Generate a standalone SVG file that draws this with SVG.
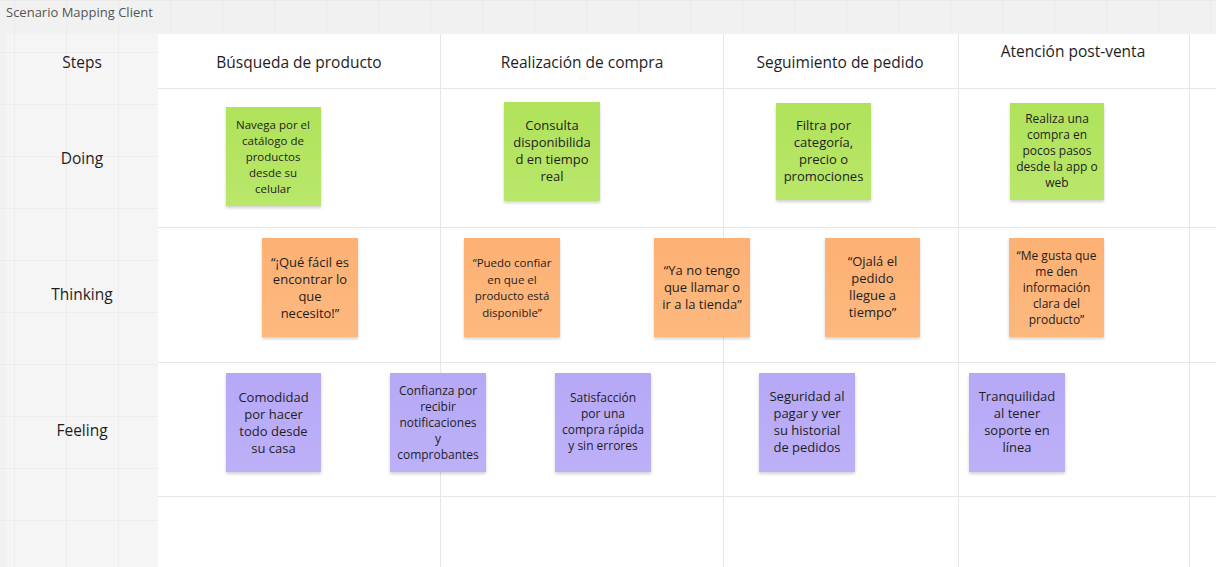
<svg xmlns="http://www.w3.org/2000/svg" width="1216" height="567" viewBox="0 0 1216 567">
<defs>
<pattern id="grid" x="14" y="0" width="52" height="52" patternUnits="userSpaceOnUse">
<path d="M0 0V52M0 0H52" fill="none" stroke="#e5e5e5" stroke-width="1"/>
</pattern>
<linearGradient id="gGreen" x1="0" y1="0" x2="0" y2="1"><stop offset="0" stop-color="#b0e25a"/><stop offset="1" stop-color="#b9e76a"/></linearGradient>
<linearGradient id="gOrange" x1="0" y1="0" x2="0" y2="1"><stop offset="0" stop-color="#fdb174"/><stop offset="1" stop-color="#fdb87e"/></linearGradient>
<linearGradient id="gPurple" x1="0" y1="0" x2="0" y2="1"><stop offset="0" stop-color="#b6a8f6"/><stop offset="1" stop-color="#bdb0f8"/></linearGradient>
<filter id="sh" x="-10%" y="-10%" width="120%" height="125%"><feDropShadow dx="0" dy="2" stdDeviation="1.5" flood-color="#000" flood-opacity="0.18"/></filter>
<style>
text{font-family:"Open Sans","Noto Sans","DejaVu Sans",sans-serif;fill:#1e1e1e;text-anchor:middle}
.title{font-size:13px;fill:#555;text-anchor:start}
.hdr{font-size:15.5px}
.lbl{font-size:15.5px}
.tl{stroke:#e6e6e6;stroke-width:1;fill:none}
.green{fill:url(#gGreen);filter:url(#sh)}
.orange{fill:url(#gOrange);filter:url(#sh)}
.purple{fill:url(#gPurple);filter:url(#sh)}
.n13{font-size:13px}
.n12{font-size:12px}
.n115{font-size:11.5px}
</style>
</defs>
<rect width="1216" height="567" fill="#f1f1f1"/>
<rect x="6" y="34" width="152" height="533" fill="#f5f5f5"/>
<rect width="1216" height="567" fill="url(#grid)"/>
<text class="title" x="6" y="17">Scenario Mapping Client</text>
<g id="table">
<rect x="158" y="34" width="1058" height="533" fill="#ffffff"/>
<path class="tl" d="M158 88.5H1216M158 227.5H1216M158 362.5H1216M158 496.5H1216M440.5 34V567M723.5 34V567M958.5 34V567M1189.5 34V567"/>
</g>
<g id="labels">
<text class="lbl" x="82" y="68">Steps</text>
<text class="lbl" x="82" y="164">Doing</text>
<text class="lbl" x="82" y="300">Thinking</text>
<text class="lbl" x="82" y="436">Feeling</text>
<text class="hdr" x="299" y="68">Búsqueda de producto</text>
<text class="hdr" x="582" y="68">Realización de compra</text>
<text class="hdr" x="840" y="68">Seguimiento de pedido</text>
<text class="hdr" x="1073" y="57">Atención post-venta</text>
</g>
<g id="doing1"><rect class="green" x="226" y="107" width="95" height="99"/>
<text class="n115"><tspan x="273" y="128.5">Navega por el</tspan><tspan x="273" y="144.5">catálogo de</tspan><tspan x="273" y="160.5">productos</tspan><tspan x="273" y="176.5">desde su</tspan><tspan x="273" y="192.5">celular</tspan></text></g>
<g id="doing2"><rect class="green" x="504" y="102" width="96" height="99"/>
<text class="n13"><tspan x="552" y="130">Consulta</tspan><tspan x="552" y="147">disponibilida</tspan><tspan x="552" y="164">d en tiempo</tspan><tspan x="552" y="181">real</tspan></text></g>
<g id="doing3"><rect class="green" x="776" y="103" width="95" height="97"/>
<text class="n13"><tspan x="823.5" y="130">Filtra por</tspan><tspan x="823.5" y="147">categoría,</tspan><tspan x="823.5" y="164">precio o</tspan><tspan x="823.5" y="181">promociones</tspan></text></g>
<g id="doing4"><rect class="green" x="1010" y="103" width="94" height="97"/>
<text class="n12"><tspan x="1057" y="123">Realiza una</tspan><tspan x="1057" y="139">compra en</tspan><tspan x="1057" y="155">pocos pasos</tspan><tspan x="1057" y="171">desde la app o</tspan><tspan x="1057" y="187">web</tspan></text></g>
<g id="think1"><rect class="orange" x="262" y="238" width="96" height="99"/>
<text class="n13"><tspan x="310" y="266.5">“¡Qué fácil es</tspan><tspan x="310" y="283.5">encontrar lo</tspan><tspan x="310" y="300.5">que</tspan><tspan x="310" y="317.5">necesito!”</tspan></text></g>
<g id="think2"><rect class="orange" x="464" y="238" width="96" height="99"/>
<text class="n115"><tspan x="512" y="267">“Puedo confiar</tspan><tspan x="512" y="283.5">en que el</tspan><tspan x="512" y="300">producto está</tspan><tspan x="512" y="316.5">disponible”</tspan></text></g>
<g id="think3"><rect class="orange" x="654" y="238" width="96" height="99"/>
<text class="n13"><tspan x="702" y="274.5">“Ya no tengo</tspan><tspan x="702" y="291.5">que llamar o</tspan><tspan x="702" y="308.5">ir a la tienda”</tspan></text></g>
<g id="think4"><rect class="orange" x="825" y="238" width="95" height="99"/>
<text class="n13"><tspan x="872.5" y="266">“Ojalá el</tspan><tspan x="872.5" y="283">pedido</tspan><tspan x="872.5" y="300">llegue a</tspan><tspan x="872.5" y="317">tiempo”</tspan></text></g>
<g id="think5"><rect class="orange" x="1009" y="238" width="95" height="99"/>
<text class="n12"><tspan x="1056.5" y="259.5">“Me gusta que</tspan><tspan x="1056.5" y="275.5">me den</tspan><tspan x="1056.5" y="291.5">información</tspan><tspan x="1056.5" y="307.5">clara del</tspan><tspan x="1056.5" y="323.5">producto”</tspan></text></g>
<g id="feel1"><rect class="purple" x="226" y="373" width="95" height="99"/>
<text class="n13"><tspan x="273.5" y="401.5">Comodidad</tspan><tspan x="273.5" y="418.5">por hacer</tspan><tspan x="273.5" y="435.5">todo desde</tspan><tspan x="273.5" y="452.5">su casa</tspan></text></g>
<g id="feel2"><rect class="purple" x="390" y="373" width="96" height="99"/>
<text class="n12"><tspan x="438" y="394.5">Confianza por</tspan><tspan x="438" y="410.5">recibir</tspan><tspan x="438" y="426.5">notificaciones</tspan><tspan x="438" y="442.5">y</tspan><tspan x="438" y="458.5">comprobantes</tspan></text></g>
<g id="feel3"><rect class="purple" x="555" y="373" width="96" height="99"/>
<text class="n12"><tspan x="603" y="402">Satisfacción</tspan><tspan x="603" y="418">por una</tspan><tspan x="603" y="434">compra rápida</tspan><tspan x="603" y="450">y sin errores</tspan></text></g>
<g id="feel4"><rect class="purple" x="759" y="373" width="96" height="99"/>
<text class="n13"><tspan x="807" y="401">Seguridad al</tspan><tspan x="807" y="418">pagar y ver</tspan><tspan x="807" y="435">su historial</tspan><tspan x="807" y="452">de pedidos</tspan></text></g>
<g id="feel5"><rect class="purple" x="969" y="373" width="96" height="99"/>
<text class="n13"><tspan x="1017" y="401">Tranquilidad</tspan><tspan x="1017" y="418">al tener</tspan><tspan x="1017" y="435">soporte en</tspan><tspan x="1017" y="452">línea</tspan></text></g>
<g id="connectors"></g>
</svg>
